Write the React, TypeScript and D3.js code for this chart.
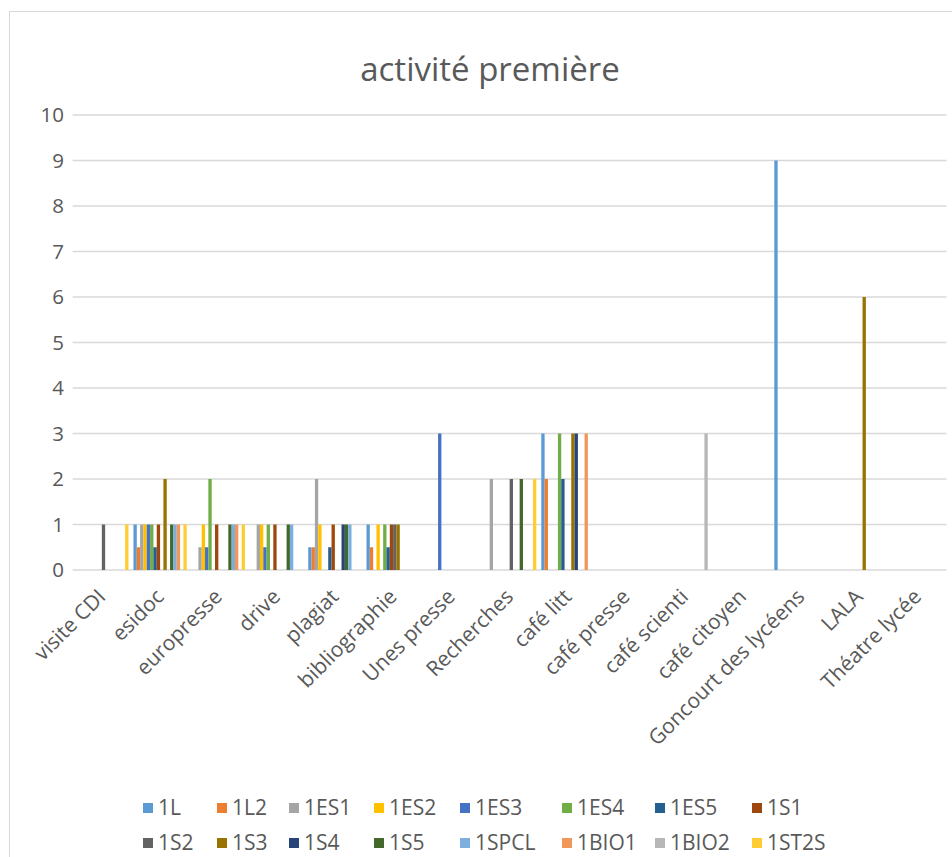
import React from "react";
import * as d3 from "d3";

const categories = [
  "visite CDI", "esidoc", "europresse", "drive", "plagiat", "bibliographie",
  "Unes presse", "Recherches", "café litt", "café presse", "café scienti",
  "café citoyen", "Goncourt des lycéens", "LALA", "Théatre lycée",
];

const seriesNames = [
  "1L", "1L2", "1ES1", "1ES2", "1ES3", "1ES4", "1ES5", "1S1",
  "1S2", "1S3", "1S4", "1S5", "1SPCL", "1BIO1", "1BIO2", "1ST2S",
];

const s1L = [0, 1, 0, 0, 0.5, 1, 0, 0, 3, 0, 0, 0, 9, 0, 0];
const s1L2 = [0, 0.5, 0, 0, 0.5, 0.5, 0, 0, 2, 0, 0, 0, 0, 0, 0];
const s1ES1 = [0, 1, 0.5, 1, 2, 0, 0, 2, 0, 0, 0, 0, 0, 0, 0];
const s1ES2 = [0, 1, 1, 1, 1, 1, 0, 0, 0, 0, 0, 0, 0, 0, 0];
const s1ES3 = [0, 1, 0.5, 0.5, 0, 0, 3, 0, 0, 0, 0, 0, 0, 0, 0];
const s1ES4 = [0, 1, 2, 1, 0, 1, 0, 0, 3, 0, 0, 0, 0, 0, 0];
const s1ES5 = [0, 0.5, 0, 0, 0.5, 0.5, 0, 0, 2, 0, 0, 0, 0, 0, 0];
const s1S1 = [0, 1, 1, 1, 1, 1, 0, 0, 0, 0, 0, 0, 0, 0, 0];
const s1S2 = [1, 0, 0, 0, 0, 1, 0, 2, 0, 0, 0, 0, 0, 0, 0];
const s1S3 = [0, 2, 0, 0, 0, 1, 0, 0, 3, 0, 0, 0, 0, 6, 0];
const s1S4 = [0, 0, 0, 0, 1, 0, 0, 0, 3, 0, 0, 0, 0, 0, 0];
const s1S5 = [0, 1, 1, 1, 1, 0, 0, 2, 0, 0, 0, 0, 0, 0, 0];
const s1SPCL = [0, 1, 1, 1, 1, 0, 0, 0, 0, 0, 0, 0, 0, 0, 0];
const s1BIO1 = [0, 1, 1, 0, 0, 0, 0, 0, 3, 0, 0, 0, 0, 0, 0];
const s1BIO2 = [0, 0, 0, 0, 0, 0, 0, 0, 0, 0, 3, 0, 0, 0, 0];
const s1ST2S = [1, 1, 1, 0, 0, 0, 0, 2, 0, 0, 0, 0, 0, 0, 0];

const seriesValues = [
  s1L, s1L2, s1ES1, s1ES2, s1ES3, s1ES4, s1ES5, s1S1,
  s1S2, s1S3, s1S4, s1S5, s1SPCL, s1BIO1, s1BIO2, s1ST2S,
];

const colors = [
  "#5B9BD5", "#ED7D31", "#A5A5A5", "#FFC000", "#4472C4", "#70AD47", "#255E91", "#9E480E",
  "#636363", "#997300", "#264478", "#43682B", "#7CAFDD", "#F1975A", "#B7B7B7", "#FFCD33",
];

const yTicks = [0, 1, 2, 3, 4, 5, 6, 7, 8, 9, 10];

const W = 952;
const H = 857;
const FONT = "'Open Sans', 'Noto Sans', sans-serif";
const TEXT = "#595959";

export default function App() {
  const left = 72.7;
  const right = 946.6;
  const top = 115;
  const bottom = 570;

  const x = d3.scaleBand<string>().domain(categories).range([left, right]).padding(0);
  const xs = d3
    .scaleBand<string>()
    .domain(seriesNames)
    .range([0, x.bandwidth()])
    .paddingInner(0)
    .paddingOuter(0.75);
  const y = d3.scaleLinear().domain([0, 10]).range([bottom, top]);

  const legendCols = [143, 217, 289, 374, 460, 562, 655, 752];
  const legendRows = [808, 843];

  return (
    <svg
      width={W}
      height={H}
      style={{ position: "absolute", left: 0, top: 0, background: "#fff" }}
      fontFamily={FONT}
    >
      <rect x={0} y={0} width={W} height={H} fill="#fff" />
      <rect x={9.5} y={11.5} width={1000} height={1000} fill="#fff" stroke="#D9D9D9" strokeWidth={1} />
      <text x={490} y={81} textAnchor="middle" fontSize={33} fill={TEXT}>
        activité première
      </text>
      {yTicks.map((t) => (
        <g key={t}>
          <line x1={left} x2={right} y1={y(t)} y2={y(t)} stroke="#D9D9D9" strokeWidth={1.5} />
          <text x={64} y={y(t)} dy="0.35em" textAnchor="end" fontSize={20.5} fill={TEXT}>
            {t}
          </text>
        </g>
      ))}
      {seriesValues.map((vals, si) => (
        <g key={seriesNames[si]} fill={colors[si]}>
          {vals.map((v, ci) =>
            v > 0 ? (
              <rect
                key={ci}
                x={(x(categories[ci]) as number) + (xs(seriesNames[si]) as number)}
                y={y(v)}
                width={xs.bandwidth()}
                height={y(0) - y(v)}
              />
            ) : null
          )}
        </g>
      ))}
      {categories.map((c) => {
        const cx = (x(c) as number) + x.bandwidth() / 2;
        return (
          <text
            key={c}
            transform={`translate(${cx + 5},${598}) rotate(-45)`}
            textAnchor="end"
            fontSize={21}
            fill={TEXT}
          >
            {c}
          </text>
        );
      })}
      {seriesNames.map((n, i) => {
        const col = i % 8;
        const row = Math.floor(i / 8);
        const lx = legendCols[col];
        const ly = legendRows[row];
        return (
          <g key={n}>
            <rect x={lx} y={ly - 5} width={10} height={10} fill={colors[i]} />
            <text x={lx + 15} y={ly} dy="0.35em" fontSize={21} fill={TEXT}>
              {n}
            </text>
          </g>
        );
      })}
    </svg>
  );
}
